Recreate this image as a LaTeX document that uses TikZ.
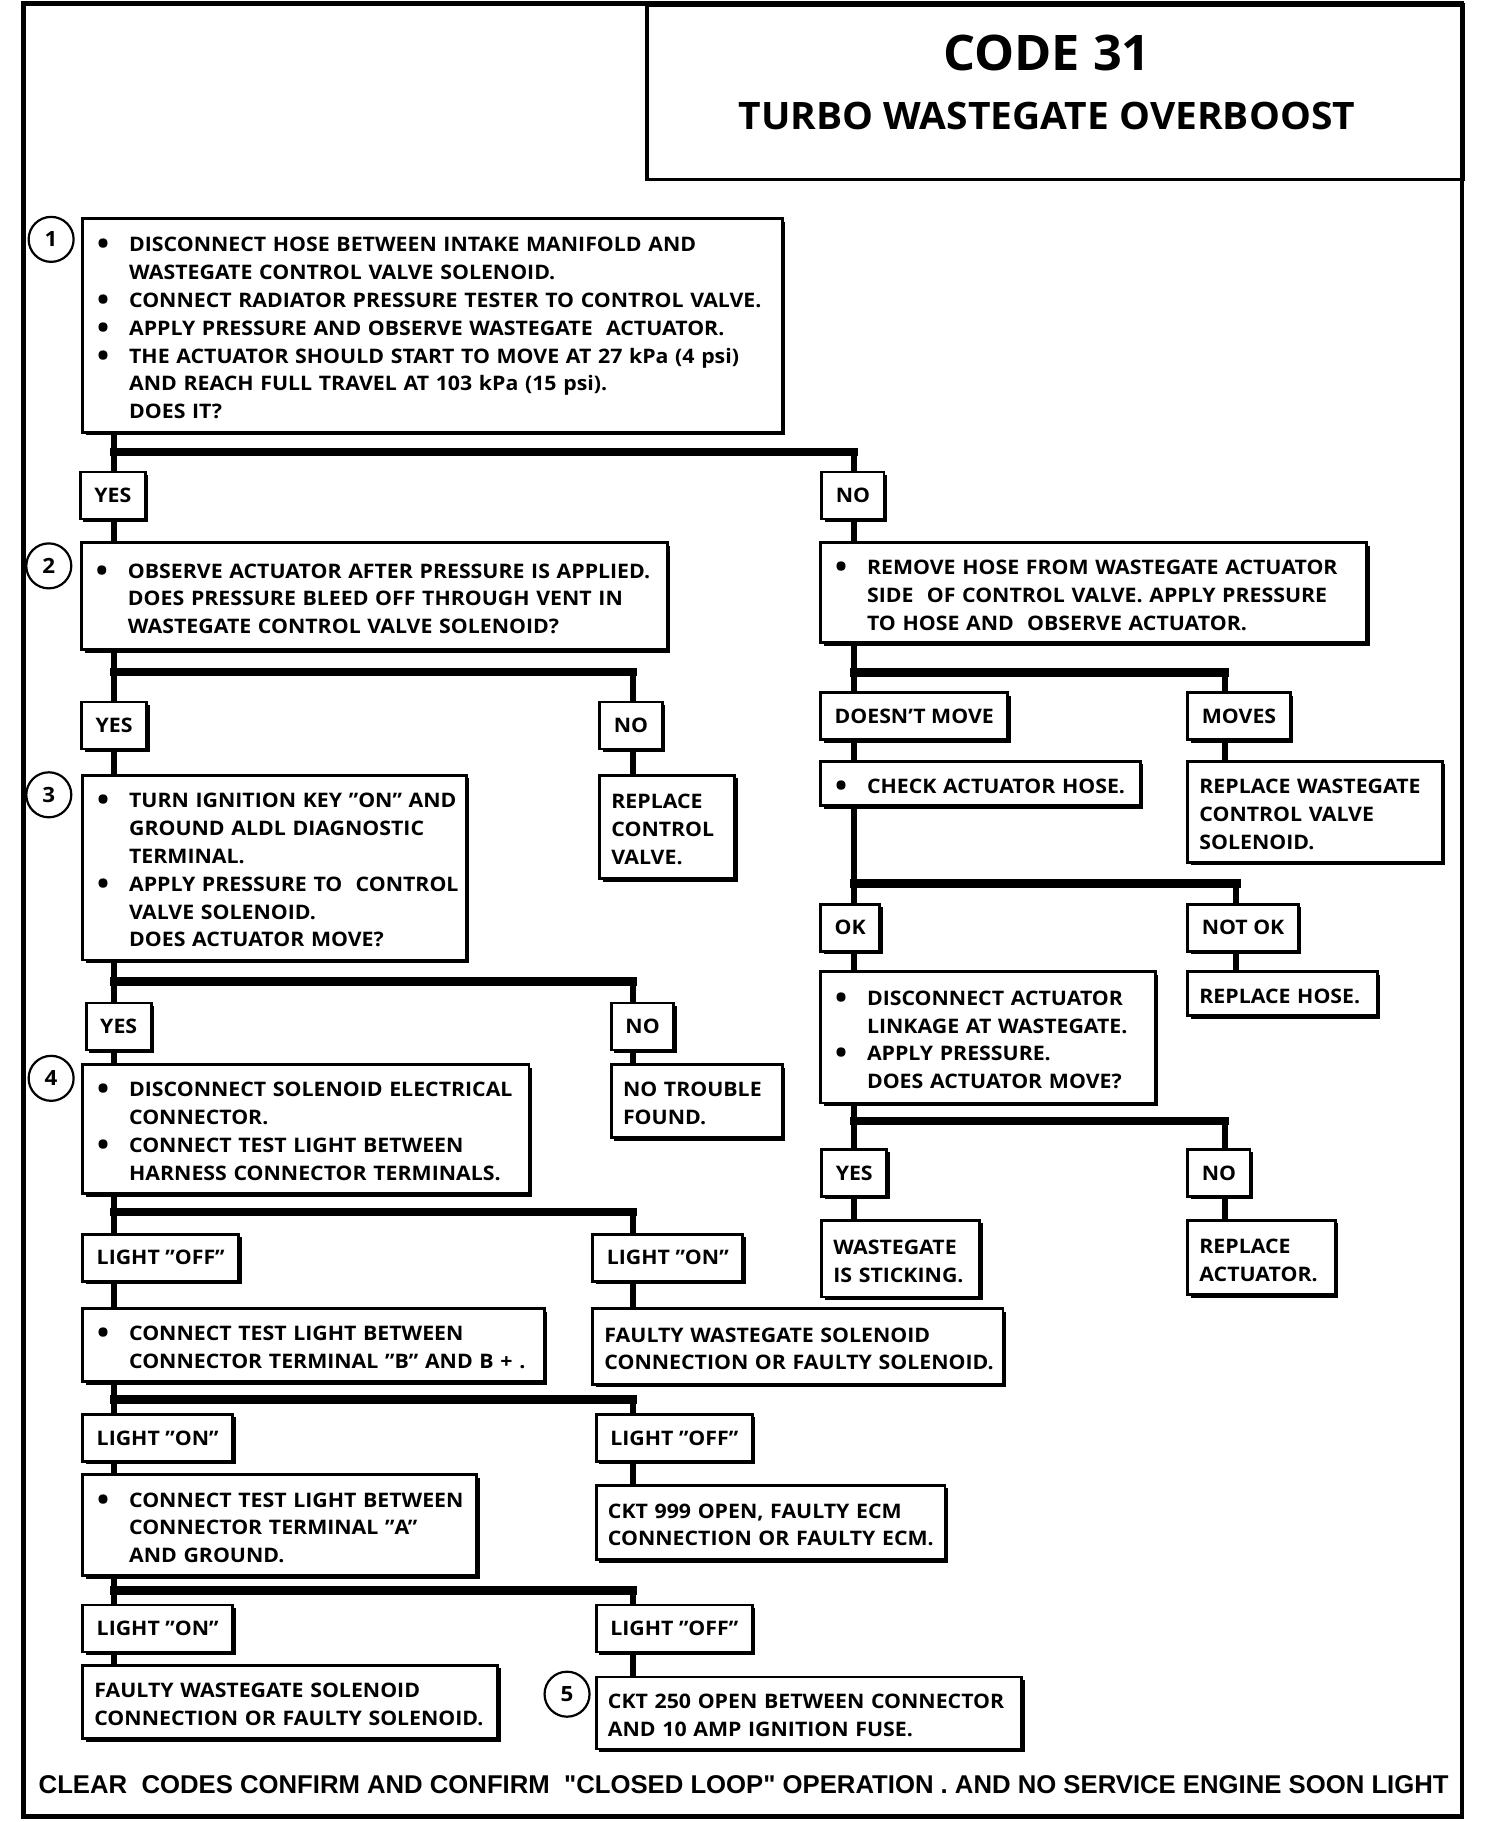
\documentclass[tikz,border=0pt]{standalone}
\usepackage{fontspec}
\setmainfont{Open Sans}[FakeStretch=1.065]
\newfontfamily\titlefont{Open Sans}[FakeStretch=1.03]
\newfontfamily\footfont{Liberation Sans}
\usetikzlibrary{calc,shadows}

\newcommand\bodyfont{\bfseries\fontsize{10}{13.94}\selectfont}
\newcommand\bul{\llap{\raisebox{-1.5pt}{\scalebox{1.5}{\textbullet}}\hspace{10pt}}}
\newcommand\plainlines[1]{\raisebox{-2pt}[\height][\depth]{\begin{tabular}{@{}l@{}}#1\end{tabular}}}
\newcommand\bulletlines[1]{\raisebox{-2pt}[\height][\depth]{\begin{tabular}{@{\hspace{17.4pt}}l@{}}#1\end{tabular}}}

\tikzset{
    outline/.style={draw, line width=1.4pt, fill=white,
        drop shadow={shadow xshift=1.5pt, shadow yshift=-1.5pt, opacity=1, fill=black}},
    textbox/.style={outline, anchor=north west, align=left, inner xsep=5.8pt, inner ysep=2pt, font=\bodyfont},
    ansbox/.style={outline, anchor=north west, inner xsep=7pt, minimum height=23.5pt, font=\bodyfont},
    stepnum/.style={circle, draw, line width=1.1pt, minimum size=22.5pt, inner sep=0pt, font=\bfseries\fontsize{10.5}{12}\selectfont},
    stem/.style={line width=3pt},
    bar/.style={line width=4.2pt, line cap=rect},
}

\begin{document}
\begin{tikzpicture}[x=0.581pt, y=-0.581pt]

    \useasboundingbox (0,0) rectangle (1290,1568);
    \draw[line width=2.3pt] (20,3) rectangle (1258,1563);

    % heading
    \node[draw, line width=1.8pt, anchor=north west, minimum width=408.4pt, minimum height=87.2pt, inner sep=0pt] (titlebox) at (555,3) {};
    \node[font=\titlefont\bfseries\fontsize{24.5}{28}\selectfont] (code) at (901,46) {CODE 31};
    \node[font=\titlefont\bfseries\fontsize{18.9}{22}\selectfont] (fault) at (901,100) {TURBO WASTEGATE OVERBOOST};

    % stem columns
    \coordinate (colL) at (98,0);
    \coordinate (colM) at (545,0);
    \coordinate (colR) at (735,0);
    \coordinate (colE) at (1054,0);
    \coordinate (colF) at (1064,0);

    % left column
    \node[textbox, text width=338.2pt, minimum height=106.9pt] (s1) at (70,187) {\bulletlines{\bul DISCONNECT HOSE BETWEEN INTAKE MANIFOLD AND\\ WASTEGATE CONTROL VALVE SOLENOID.\\ \bul CONNECT RADIATOR PRESSURE TESTER TO CONTROL VALVE.\\ \bul APPLY PRESSURE AND OBSERVE WASTEGATE\ \ ACTUATOR.\\ \bul THE ACTUATOR SHOULD START TO MOVE AT 27 kPa (4 psi)\\ AND REACH FULL TRAVEL AT 103 kPa (15 psi).\\ DOES IT?}};
    \node[ansbox] (yes1) at (68,405) {YES};
    \node[ansbox] (no1) at (706,405) {NO};

    \node[textbox, text width=281.2pt, minimum height=53.5pt] (s2) at (69,466) {\bulletlines{\bul OBSERVE ACTUATOR AFTER PRESSURE IS APPLIED.\\ DOES PRESSURE BLEED OFF THROUGH VENT IN\\ WASTEGATE CONTROL VALVE SOLENOID?}};
    \node[ansbox] (yes2) at (69,603) {YES};
    \node[ansbox] (no2) at (515,603) {NO};

    \node[textbox, text width=180.1pt, minimum height=92.4pt] (s3) at (70,666) {\bulletlines{\bul TURN IGNITION KEY "ON" AND\\ GROUND ALDL DIAGNOSTIC\\ TERMINAL.\\ \bul APPLY PRESSURE TO\ \ CONTROL\\ VALVE SOLENOID.\\ DOES ACTUATOR MOVE?}};
    \node[textbox, text width=55.8pt, minimum height=51.7pt] (rcv) at (515,666) {\plainlines{REPLACE\\ CONTROL\\ VALVE.}};
    \node[ansbox] (yes3) at (73,862) {YES};
    \node[ansbox] (no3) at (525,862) {NO};

    \node[textbox, text width=211.5pt, minimum height=64.5pt] (s4) at (70,915) {\bulletlines{\bul DISCONNECT SOLENOID ELECTRICAL\\ CONNECTOR.\\ \bul CONNECT TEST LIGHT BETWEEN\\ HARNESS CONNECTOR TERMINALS.}};
    \node[textbox, text width=73.8pt, minimum height=36.6pt] (ntf) at (525,915) {\plainlines{NO TROUBLE\\ FOUND.}};
    \node[ansbox] (loff1) at (70,1061) {LIGHT "OFF"};
    \node[ansbox] (lon1) at (509,1061) {LIGHT "ON"};

    \node[textbox, text width=219.1pt, minimum height=36.6pt] (s5) at (70,1125) {\bulletlines{\bul CONNECT TEST LIGHT BETWEEN\\ CONNECTOR TERMINAL "B" AND B + .}};
    \node[textbox, text width=193.5pt, minimum height=37.8pt] (fws1) at (509,1125) {\plainlines{FAULTY WASTEGATE SOLENOID\\ CONNECTION OR FAULTY SOLENOID.}};
    \node[ansbox] (lon2) at (70,1216) {LIGHT "ON"};
    \node[ansbox] (loff2) at (512,1216) {LIGHT "OFF"};

    \node[textbox, text width=185.4pt, minimum height=50.5pt] (s6) at (70,1268) {\bulletlines{\bul CONNECT TEST LIGHT BETWEEN\\ CONNECTOR TERMINAL "A"\\ AND GROUND.}};
    \node[textbox, text width=162.7pt, minimum height=37.2pt] (ckt999) at (512,1277) {\plainlines{CKT 999 OPEN, FAULTY ECM\\ CONNECTION OR FAULTY ECM.}};
    \node[ansbox] (lon3) at (70,1380) {LIGHT "ON"};
    \node[ansbox] (loff3) at (512,1380) {LIGHT "OFF"};

    \node[textbox, text width=195.8pt, minimum height=36.6pt] (fws2) at (70,1432) {\plainlines{FAULTY WASTEGATE SOLENOID\\ CONNECTION OR FAULTY SOLENOID.}};
    \node[textbox, text width=201pt, minimum height=36pt] (ckt250) at (512,1442) {\plainlines{CKT 250 OPEN BETWEEN CONNECTOR\\ AND 10 AMP IGNITION FUSE.}};

    % right column
    \node[textbox, text width=261.5pt, minimum height=50pt] (r1) at (705,466) {\bulletlines{\bul REMOVE HOSE FROM WASTEGATE ACTUATOR\\ SIDE\ \ OF CONTROL VALVE. APPLY PRESSURE\\ TO HOSE AND\ \ OBSERVE ACTUATOR.}};
    \node[ansbox] (dm) at (705,595) {DOESN'T MOVE};
    \node[ansbox] (mv) at (1021,595) {MOVES};

    \node[textbox, text width=148.2pt, minimum height=22.1pt] (chk) at (705,654) {\bulletlines{\bul CHECK ACTUATOR HOSE.}};
    \node[textbox, text width=115.6pt, minimum height=50.5pt] (rws) at (1021,654) {\plainlines{REPLACE WASTEGATE\\ CONTROL VALVE\\ SOLENOID.}};
    \node[ansbox] (ok) at (705,777) {OK};
    \node[ansbox] (nok) at (1021,777) {NOT OK};

    \node[textbox, text width=155.7pt, minimum height=65.7pt] (r3) at (705,835) {\bulletlines{\bul DISCONNECT ACTUATOR\\ LINKAGE AT WASTEGATE.\\ \bul APPLY PRESSURE.\\ DOES ACTUATOR MOVE?}};
    \node[textbox, text width=83.1pt, minimum height=22.1pt] (rh) at (1021,835) {\plainlines{REPLACE HOSE.}};
    \node[ansbox] (yes4) at (706,988) {YES};
    \node[ansbox] (no4) at (1021,988) {NO};

    \node[textbox, text width=67.4pt, minimum height=38.3pt] (wis) at (706,1049) {\plainlines{WASTEGATE\\ IS STICKING.}};
    \node[textbox, text width=62.2pt, minimum height=37.2pt] (ra) at (1021,1049) {\plainlines{REPLACE\\ ACTUATOR.}};

    % step numbers
    \node[stepnum] (n1) at (44,206) {1};
    \node[stepnum] (n2) at (42,487) {2};
    \node[stepnum] (n3) at (42,684) {3};
    \node[stepnum] (n4) at (44,928) {4};
    \node[stepnum] (n5) at (488,1458) {5};

    % branches
    \coordinate (j1) at ($(s1.south -| colL)!.5!(yes1.north -| colL)$);
    \draw[stem] (s1.south -| colL) -- (yes1.north -| colL);
    \draw[bar] (j1) -- (j1 -| colR);
    \draw[stem] (j1 -| colR) -- (no1.north -| colR);

    \coordinate (j2) at ($(s2.south -| colL)!.42!(yes2.north -| colL)$);
    \draw[stem] (s2.south -| colL) -- (yes2.north -| colL);
    \draw[bar] (j2) -- (j2 -| colM);
    \draw[stem] (j2 -| colM) -- (no2.north -| colM);

    \coordinate (j3) at ($(s3.south -| colL)!.5!(yes3.north -| colL)$);
    \draw[stem] (s3.south -| colL) -- (yes3.north -| colL);
    \draw[bar] (j3) -- (j3 -| colM);
    \draw[stem] (j3 -| colM) -- (no3.north -| colM);

    \coordinate (j4) at ($(s4.south -| colL)!.45!(loff1.north -| colL)$);
    \draw[stem] (s4.south -| colL) -- (loff1.north -| colL);
    \draw[bar] (j4) -- (j4 -| colM);
    \draw[stem] (j4 -| colM) -- (lon1.north -| colM);

    \coordinate (j5) at ($(s5.south -| colL)!.55!(lon2.north -| colL)$);
    \draw[stem] (s5.south -| colL) -- (lon2.north -| colL);
    \draw[bar] (j5) -- (j5 -| colM);
    \draw[stem] (j5 -| colM) -- (loff2.north -| colM);

    \coordinate (j6) at ($(s6.south -| colL)!.5!(lon3.north -| colL)$);
    \draw[stem] (s6.south -| colL) -- (lon3.north -| colL);
    \draw[bar] (j6) -- (j6 -| colM);
    \draw[stem] (j6 -| colM) -- (loff3.north -| colM);

    \coordinate (j7) at ($(r1.south -| colR)!.6!(dm.north -| colR)$);
    \draw[stem] (r1.south -| colR) -- (dm.north -| colR);
    \draw[bar] (j7) -- (j7 -| colE);
    \draw[stem] (j7 -| colE) -- (mv.north -| colE);

    \coordinate (j8) at ($(chk.south -| colR)!.8!(ok.north -| colR)$);
    \draw[stem] (chk.south -| colR) -- (ok.north -| colR);
    \draw[bar] (j8) -- (j8 -| colF);
    \draw[stem] (j8 -| colF) -- (nok.north -| colF);

    \coordinate (j9) at ($(r3.south -| colR)!.38!(yes4.north -| colR)$);
    \draw[stem] (r3.south -| colR) -- (yes4.north -| colR);
    \draw[bar] (j9) -- (j9 -| colE);
    \draw[stem] (j9 -| colE) -- (no4.north -| colE);

    % answers into boxes
    \draw[stem] (yes1.south -| colL) -- (s2.north -| colL);
    \draw[stem] (no1.south -| colR) -- (r1.north -| colR);
    \draw[stem] (yes2.south -| colL) -- (s3.north -| colL);
    \draw[stem] (no2.south -| colM) -- (rcv.north -| colM);
    \draw[stem] (yes3.south -| colL) -- (s4.north -| colL);
    \draw[stem] (no3.south -| colM) -- (ntf.north -| colM);
    \draw[stem] (loff1.south -| colL) -- (s5.north -| colL);
    \draw[stem] (lon1.south -| colM) -- (fws1.north -| colM);
    \draw[stem] (lon2.south -| colL) -- (s6.north -| colL);
    \draw[stem] (loff2.south -| colM) -- (ckt999.north -| colM);
    \draw[stem] (lon3.south -| colL) -- (fws2.north -| colL);
    \draw[stem] (loff3.south -| colM) -- (ckt250.north -| colM);
    \draw[stem] (dm.south -| colR) -- (chk.north -| colR);
    \draw[stem] (mv.south -| colE) -- (rws.north -| colE);
    \draw[stem] (ok.south -| colR) -- (r3.north -| colR);
    \draw[stem] (nok.south -| colF) -- (rh.north -| colF);
    \draw[stem] (yes4.south -| colR) -- (wis.north -| colR);
    \draw[stem] (no4.south -| colE) -- (ra.north -| colE);

    % footer
    \node[font=\footfont\bfseries\fontsize{12.85}{15}\selectfont] (clear) at (640,1536) {CLEAR\ \ CODES CONFIRM AND CONFIRM\ \ "CLOSED LOOP" OPERATION . AND NO SERVICE ENGINE SOON LIGHT};

\end{tikzpicture}
\end{document}
